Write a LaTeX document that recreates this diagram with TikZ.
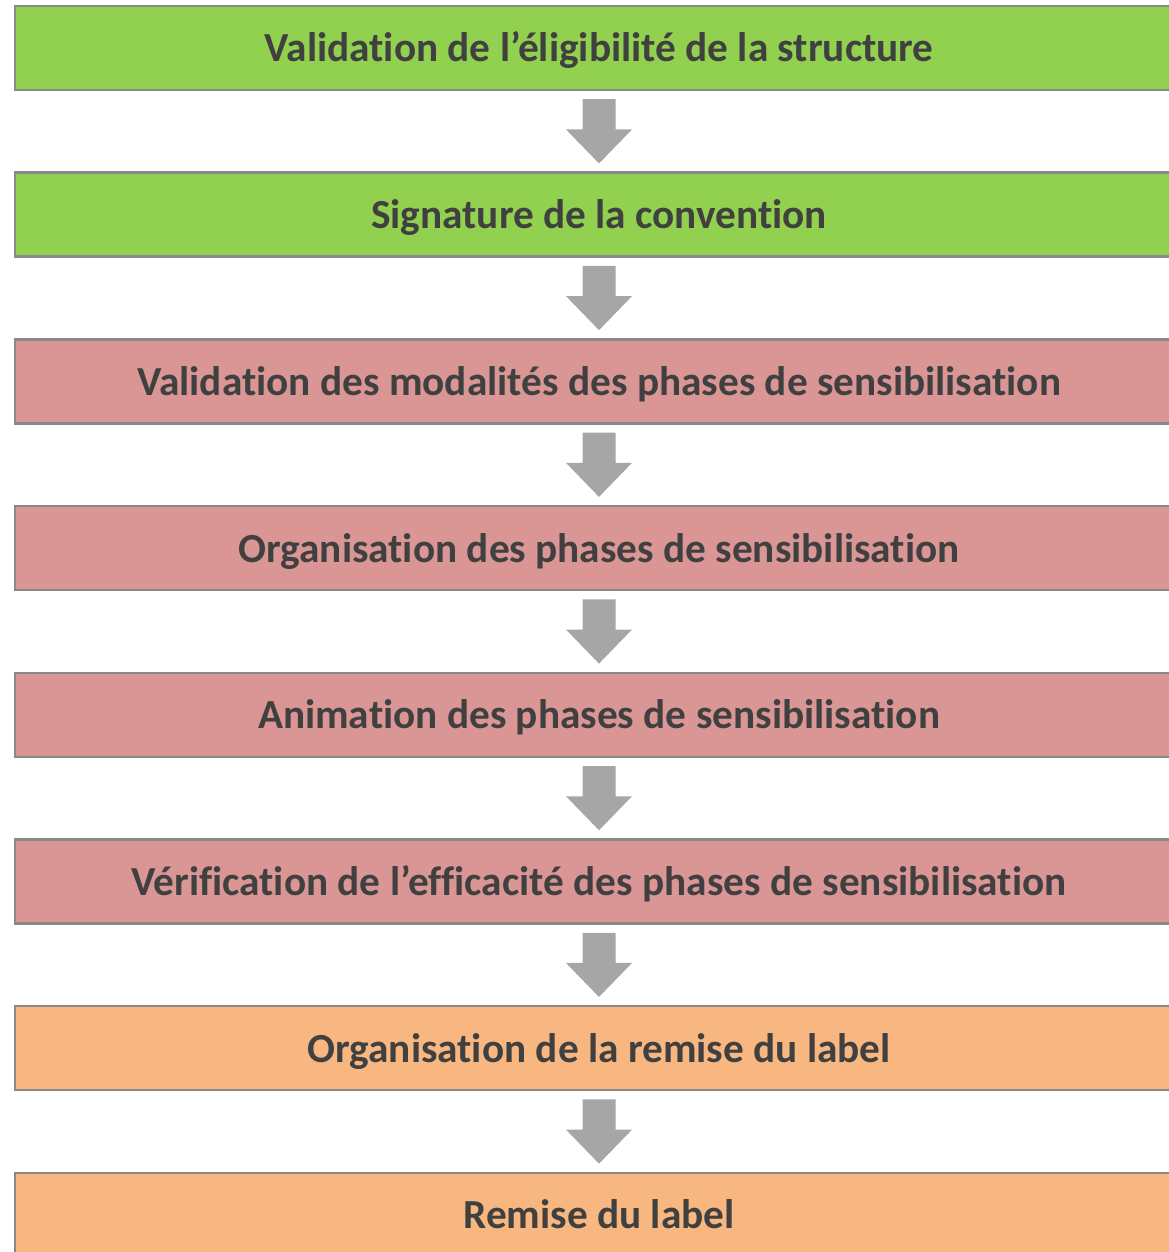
\documentclass[tikz,border=0pt]{standalone}
\usepackage{fontspec}
\setmainfont[Ligatures={NoCommon}]{Carlito}
\usetikzlibrary{calc}
\definecolor{vert}{HTML}{92D050}
\definecolor{rose}{HTML}{D99694}
\definecolor{orange}{HTML}{F8B780}
\definecolor{cadre}{HTML}{898989}
\definecolor{fleche}{HTML}{A6A6A6}
\definecolor{texte}{HTML}{404040}
\tikzset{
  etape/.style={draw=cadre, line width=2.5pt, minimum width=1168pt, minimum height=84pt,
    inner sep=0pt, text height=28pt, text depth=0pt,
    font=\fontsize{41.3}{48}\selectfont\bfseries, text=texte, anchor=center},
}
\newcommand{\grossefleche}[2]{%
  \fill[fleche] ($(#1.south)+(-16.5,-8)$) -- ($(#1.south)+(16.5,-8)$)
    -- ($(#2.north)+(16.5,42)$) -- ($(#2.north)+(33,42)$) -- ($(#2.north)+(0,8)$)
    -- ($(#2.north)+(-33,42)$) -- ($(#2.north)+(-16.5,42)$) -- cycle;}
\begin{document}
\begin{tikzpicture}[x=1pt,y=1pt]
\useasboundingbox (0,0) rectangle (1169,-1252);
\clip (0,0) rectangle (1169,-1252);
\node[etape, fill=vert]   (e1) at (599,-48)     {Validation de l’éligibilité de la structure};
\node[etape, fill=vert]   (e2) at (599,-214.7)  {Signature de la convention};
\node[etape, fill=rose]   (e3) at (599,-381.4)  {Validation des modalités des phases de sensibilisation};
\node[etape, fill=rose]   (e4) at (599,-548.1)  {Organisation des phases de sensibilisation};
\node[etape, fill=rose]   (e5) at (599,-714.8)  {Animation des phases de sensibilisation};
\node[etape, fill=rose]   (e6) at (599,-881.5)  {Vérification de l’efficacité des phases de sensibilisation};
\node[etape, fill=orange] (e7) at (599,-1048.2) {Organisation de la remise du label};
\node[etape, fill=orange] (e8) at (599,-1214.9) {Remise du label};
\grossefleche{e1}{e2}
\grossefleche{e2}{e3}
\grossefleche{e3}{e4}
\grossefleche{e4}{e5}
\grossefleche{e5}{e6}
\grossefleche{e6}{e7}
\grossefleche{e7}{e8}
\end{tikzpicture}
\end{document}
